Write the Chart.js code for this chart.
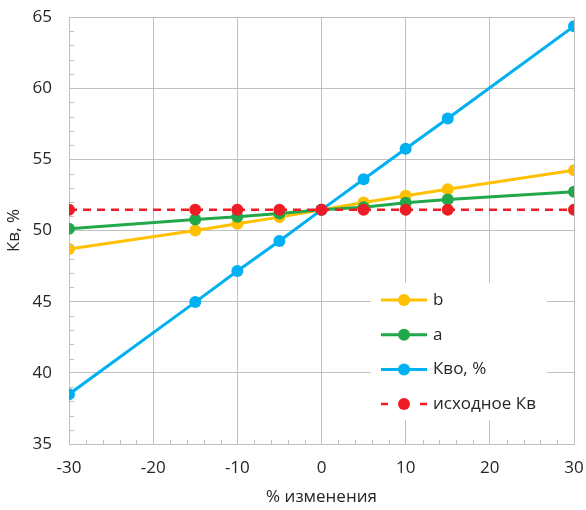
<!DOCTYPE html>
<html>
<head>
<meta charset="utf-8">
<script src="https://cdn.jsdelivr.net/npm/chart.js@4"></script>
<style>
  html, body { margin: 0; padding: 0; background: #fff; }
  #wrap { width: 586px; height: 510px; position: relative; }
</style>
</head>
<body>
<div id="wrap"><canvas id="c" width="586" height="510"></canvas></div>
<script>
// Percent change of the parameter
const changes = [-30, -15, -10, -5, 0, 5, 10, 15, 30];

// Кв response for each varied parameter
const seriesB   = [48.7, 50.0, 50.47, 50.94, 51.45, 51.97, 52.44, 52.9, 54.24];
const seriesA   = [50.12, 50.78, 50.96, 51.2, 51.45, 51.64, 51.95, 52.18, 52.72];
const seriesKvo = [38.5, 44.97, 47.15, 49.26, 51.45, 53.6, 55.74, 57.87, 64.35];
const baseKv    = [51.45, 51.45, 51.45, 51.45, 51.45, 51.45, 51.45, 51.45, 51.45];

const seriesNames = ['b', 'a', 'Кво, %', 'исходное Кв'];

const xTicks = [-30, -20, -10, 0, 10, 20, 30];
const yTicks = [35, 40, 45, 50, 55, 60, 65];

const FONT = '"Open Sans", "Liberation Sans", sans-serif';
const FSIZE = 17;
const GRID = '#bfbfbf';
const TEXT = '#262626';

const toPoints = vals => vals.map((v, i) => ({ x: changes[i], y: v }));

const colors = ['#FFC000', '#21A84A', '#00B0F0', '#EE1C25'];

function makeSet(label, vals, color, order, dashed) {
  return {
    label,
    data: toPoints(vals),
    borderColor: color,
    backgroundColor: color,
    pointBackgroundColor: color,
    pointBorderColor: color,
    pointRadius: 6,
    pointHoverRadius: 6,
    pointBorderWidth: 0,
    borderWidth: dashed ? 2.5 : 3,
    borderDash: dashed ? [8, 6] : [],
    tension: 0,
    order
  };
}

// Minor tick marks drawn inward from the axes
const minorTicks = {
  id: 'minorTicks',
  afterDatasetsDraw(chart) {
    const { ctx, chartArea, scales } = chart;
    ctx.save();
    ctx.strokeStyle = GRID;
    ctx.lineWidth = 1;
    ctx.beginPath();
    for (let v = -30; v <= 30; v += 2) {
      if (v % 10 === 0) continue;
      const px = Math.round(scales.x.getPixelForValue(v)) + 0.5;
      ctx.moveTo(px, chartArea.bottom);
      ctx.lineTo(px, chartArea.bottom - 4);
    }
    for (let v = 35; v <= 65; v += 1) {
      if (v % 5 === 0) continue;
      const py = Math.round(scales.y.getPixelForValue(v)) + 0.5;
      ctx.moveTo(chartArea.left, py);
      ctx.lineTo(chartArea.left + 5, py);
    }
    ctx.stroke();
    ctx.restore();
  }
};

// Legend box placed inside the plot area
const innerLegend = {
  id: 'innerLegend',
  afterDraw(chart) {
    const { ctx } = chart;
    const box = { x: 371, y: 283, w: 176, h: 137 };
    ctx.save();
    ctx.fillStyle = '#fff';
    ctx.fillRect(box.x, box.y, box.w, box.h);
    chart.data.datasets.forEach((ds, i) => {
      const y = 300 + i * 34.7;
      ctx.strokeStyle = ds.borderColor;
      ctx.lineWidth = ds.borderWidth;
      ctx.beginPath();
      if (ds.borderDash.length) {
        ctx.moveTo(381, y); ctx.lineTo(388, y);
        ctx.moveTo(420, y); ctx.lineTo(427, y);
      } else {
        ctx.moveTo(381, y); ctx.lineTo(427, y);
      }
      ctx.stroke();
      ctx.fillStyle = ds.borderColor;
      ctx.beginPath();
      ctx.arc(404, y, 6, 0, Math.PI * 2);
      ctx.fill();
      ctx.fillStyle = TEXT;
      ctx.font = FSIZE + 'px ' + FONT;
      ctx.textBaseline = 'middle';
      ctx.textAlign = 'left';
      ctx.fillText(ds.label, 433, y);
    });
    ctx.restore();
  }
};

new Chart(document.getElementById('c'), {
  type: 'line',
  data: {
    datasets: [
      makeSet(seriesNames[0], seriesB, colors[0], 3, false),
      makeSet(seriesNames[1], seriesA, colors[1], 2, false),
      makeSet(seriesNames[2], seriesKvo, colors[2], 1, false),
      makeSet(seriesNames[3], baseKv, colors[3], 0, true)
    ]
  },
  options: {
    responsive: false,
    animation: false,
    layout: { padding: { left: 0, right: 12, top: 17, bottom: 0 } },
    plugins: {
      legend: { display: false },
      tooltip: { enabled: false }
    },
    scales: {
      x: {
        type: 'linear',
        min: -30,
        max: 30,
        afterBuildTicks: s => { s.ticks = xTicks.map(v => ({ value: v })); },
        afterFit: s => { s.height = 66; s.paddingLeft = 0; s.paddingRight = 0; },
        grid: { color: GRID, lineWidth: 1, drawTicks: false },
        border: { color: GRID, width: 1 },
        ticks: { color: TEXT, font: { family: FONT, size: FSIZE }, padding: 14 },
        title: {
          display: true,
          text: '% изменения',
          color: TEXT,
          font: { family: FONT, size: FSIZE },
          padding: { top: 0, bottom: 3 }
        }
      },
      y: {
        min: 35,
        max: 65,
        afterBuildTicks: s => { s.ticks = yTicks.map(v => ({ value: v })); },
        afterFit: s => { s.width = 69; s.paddingTop = 0; s.paddingBottom = 0; },
        grid: { color: GRID, lineWidth: 1, drawTicks: false },
        border: { color: GRID, width: 1 },
        ticks: { color: TEXT, font: { family: FONT, size: FSIZE }, padding: 17 },
        title: {
          display: true,
          text: 'Кв, %',
          color: TEXT,
          font: { family: FONT, size: FSIZE },
          padding: { top: 4, bottom: 0 }
        }
      }
    }
  },
  plugins: [minorTicks, innerLegend]
});
</script>
</body>
</html>
